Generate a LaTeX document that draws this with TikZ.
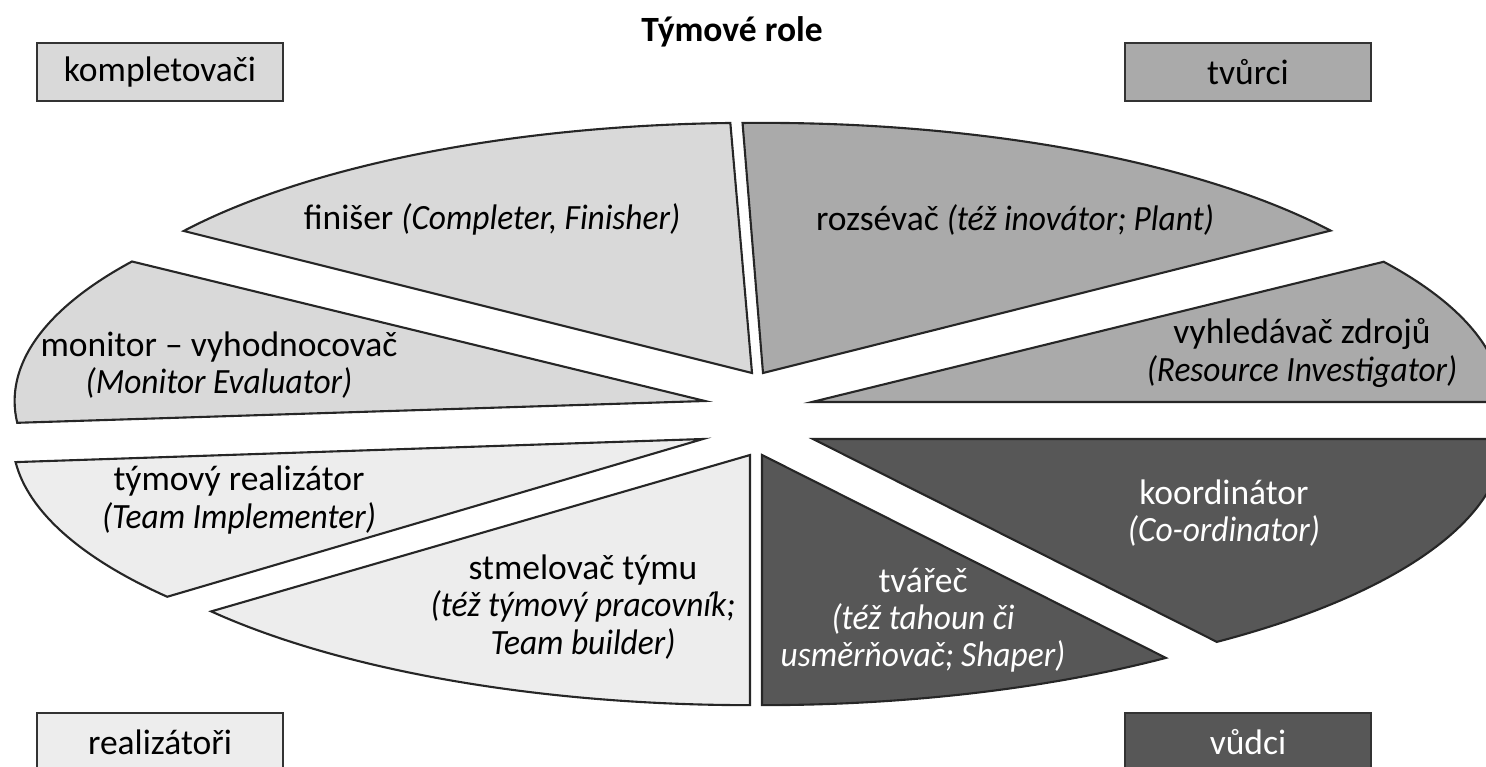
\documentclass[tikz,border=0pt]{standalone}
\usepackage{fontspec}
\setmainfont{Carlito}[ItalicFeatures={FakeStretch=0.94}]
\usepackage{tikz}
\usetikzlibrary{positioning}
\definecolor{kompgray}{HTML}{D9D9D9}
\definecolor{tvurgray}{HTML}{AAAAAA}
\definecolor{vudgray}{HTML}{575757}
\definecolor{realgray}{HTML}{EDEDED}
\tikzstyle{rolebox} = [draw=black!80, line width=0.6pt, minimum width=2.46cm, minimum height=0.58cm, inner sep=0pt]
\tikzstyle{sector} = [draw=black!85, line width=0.6pt, line join=miter]
\tikzstyle{rolename} = [align=center, inner sep=0pt]

\begin{document}
\begin{tikzpicture}[x=0.01cm, y=0.01cm, every node/.style={font=\fontsize{10.1}{10.6}\selectfont}]
    \useasboundingbox (0,0) rectangle (1486,766);
    \clip (0,0) rectangle (1486,766);

      % Sector corners
      \coordinate (c1) at (752,393);
      \coordinate (c2) at (763,393);
      \coordinate (c3) at (812,364);
      \coordinate (c4) at (705,365);
      \coordinate (c5) at (703,327);
      \coordinate (c6) at (750,311);
      \coordinate (c7) at (762,311);
      \coordinate (c8) at (813,327);

      % Sectors
      \draw[sector, fill=kompgray] (c1) -- ++(145.4:6.9cm and 2.5cm) arc[start angle=145.4, end angle=91.8, x radius=6.9cm, y radius=2.5cm] -- cycle;
      \draw[sector, fill=tvurgray] (c2) -- ++(91.7:6.9cm and 2.5cm) arc[start angle=91.7, end angle=34.7, x radius=6.9cm, y radius=2.5cm] -- cycle;
      \draw[sector, fill=tvurgray] (c3) -- ++(34.1:6.9cm and 2.5cm) arc[start angle=34.1, end angle=0, x radius=6.9cm, y radius=2.5cm] -- cycle;
      \draw[sector, fill=kompgray] (c4) -- ++(146.1:6.9cm and 2.5cm) arc[start angle=146.1, end angle=185, x radius=6.9cm, y radius=2.5cm] -- cycle;
      \draw[sector, fill=realgray] (c5) -- ++(185.3:6.9cm and 2.5cm) arc[start angle=185.3, end angle=219.1, x radius=6.9cm, y radius=2.5cm] -- cycle;
      \draw[sector, fill=realgray] (c6) -- ++(218.7:6.9cm and 2.5cm) arc[start angle=218.7, end angle=270, x radius=6.9cm, y radius=2.5cm] -- cycle;
      \draw[sector, fill=vudgray] (c7) -- ++(270:6.9cm and 2.5cm) arc[start angle=270, end angle=305.8, x radius=6.9cm, y radius=2.5cm] -- cycle;
      \draw[sector, fill=vudgray] (c8) -- ++(305.8:6.9cm and 2.5cm) arc[start angle=305.8, end angle=360, x radius=6.9cm, y radius=2.5cm] -- cycle;

      % Role names
      \node[rolename] (fin) at (492,547) {finišer \textit{(Completer, Finisher)}};
      \node[rolename] (roz) at (1015,546) {rozsévač \textit{(též inovátor; Plant)}};
      \node[rolename] (vyh) at (1302,413) {vyhledávač zdrojů\\\textit{(Resource Investigator)}};
      \node[rolename] (mon) at (219,401) {monitor – vyhodnocovač\\\textit{(Monitor Evaluator)}};
      \node[rolename] (rea) at (239,266) {týmový realizátor\\\textit{(Team Implementer)}};
      \node[rolename] (stm) at (583,159) {stmelovač týmu\\\textit{(též týmový pracovník;}\\\textit{Team builder)}};
      \node[rolename, text=white] (koo) at (1224,253) {koordinátor\\\textit{(Co-ordinator)}};
      \node[rolename, text=white] (tva) at (923,146) {tvářeč\\\textit{(též tahoun či}\\\textit{usměrňovač; Shaper)}};

      % Groups
      \node[rolebox, fill=kompgray] (komp) at (160,694) {kompletovači};
      \node[rolebox, fill=tvurgray] (tvur) at (1248,694) {tvůrci};
      \node[rolebox, fill=realgray] (real) at (160,24) {realizátoři};
      \node[rolebox, fill=vudgray, text=white] (vudc) at (1248,24) {vůdci};

      % Title
      \node[font=\fontsize{10.1}{10.6}\selectfont\bfseries] (title) at (732,734) {Týmové role};

  \end{tikzpicture}
\end{document}
